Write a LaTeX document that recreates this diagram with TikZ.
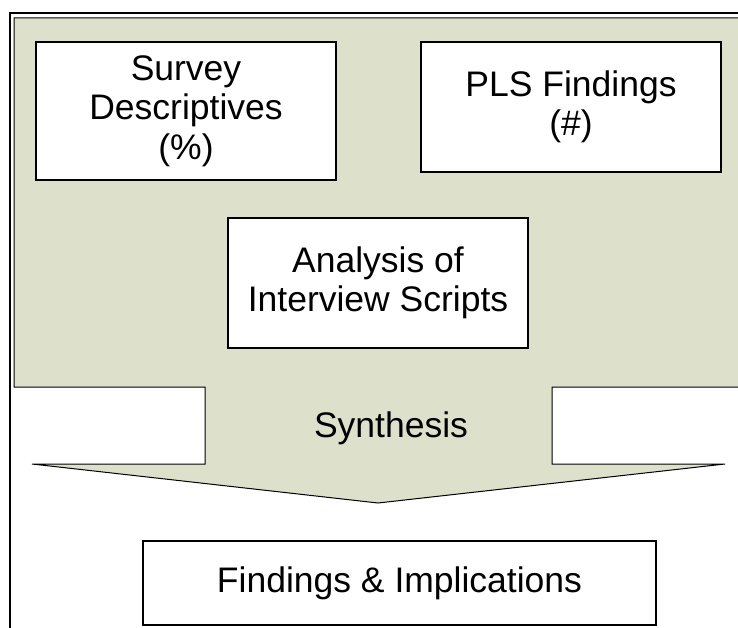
\documentclass[tikz,border=0pt]{standalone}
\usepackage{fontspec}
\setmainfont{Liberation Sans}
\definecolor{sage}{RGB}{221,224,203}
\newcommand\diagfont{\fontsize{35.5}{39.5}\selectfont}
\begin{document}
\begin{tikzpicture}[x=1pt,y=-1pt,
  box/.style={draw=black, line width=1.8pt, fill=white, inner sep=0pt,
              align=center, font=\diagfont},
  caption/.style={inner sep=0pt, font=\diagfont},
  frame/.style={draw=black, line width=1.4pt},
  outline/.style={draw=black, line width=1pt}]
\useasboundingbox (0,0) rectangle (738,628);

% outer frame (runs off the right and bottom edges)
\draw[frame] (10,628) -- (10,13) -- (738,13);

% shaded panel ending in a downward arrow
\fill[sage] (14,18) -- (738,18) -- (738,387) -- (552,387) -- (552,464)
  -- (725,464) -- (378,503) -- (32,464) -- (205,464) -- (205,387)
  -- (14,387) -- cycle;
\draw[outline] (738,387) -- (552,387) -- (552,464) -- (725,464)
  -- (378,503) -- (32,464) -- (205,464) -- (205,387) -- (14,387)
  -- (14,18) -- (738,18);

% source boxes
\node[box, minimum width=300pt, minimum height=138pt] (survey) at (186,111)
  {Survey\\Descriptives\\(\%)};
\node[box, minimum width=300pt, minimum height=130pt] (pls) at (571,107)
  {PLS Findings\\(\#)};
\node[box, minimum width=300pt, minimum height=130pt] (interviews) at (378,283)
  {Analysis of\\Interview Scripts};

% arrow caption
\node[caption, anchor=base] (synthesis) at (391,437) {Synthesis};

% result box
\node[box, minimum width=513pt, minimum height=84pt] (findings) at (399.5,583)
  {Findings \& Implications};
\end{tikzpicture}
\end{document}
